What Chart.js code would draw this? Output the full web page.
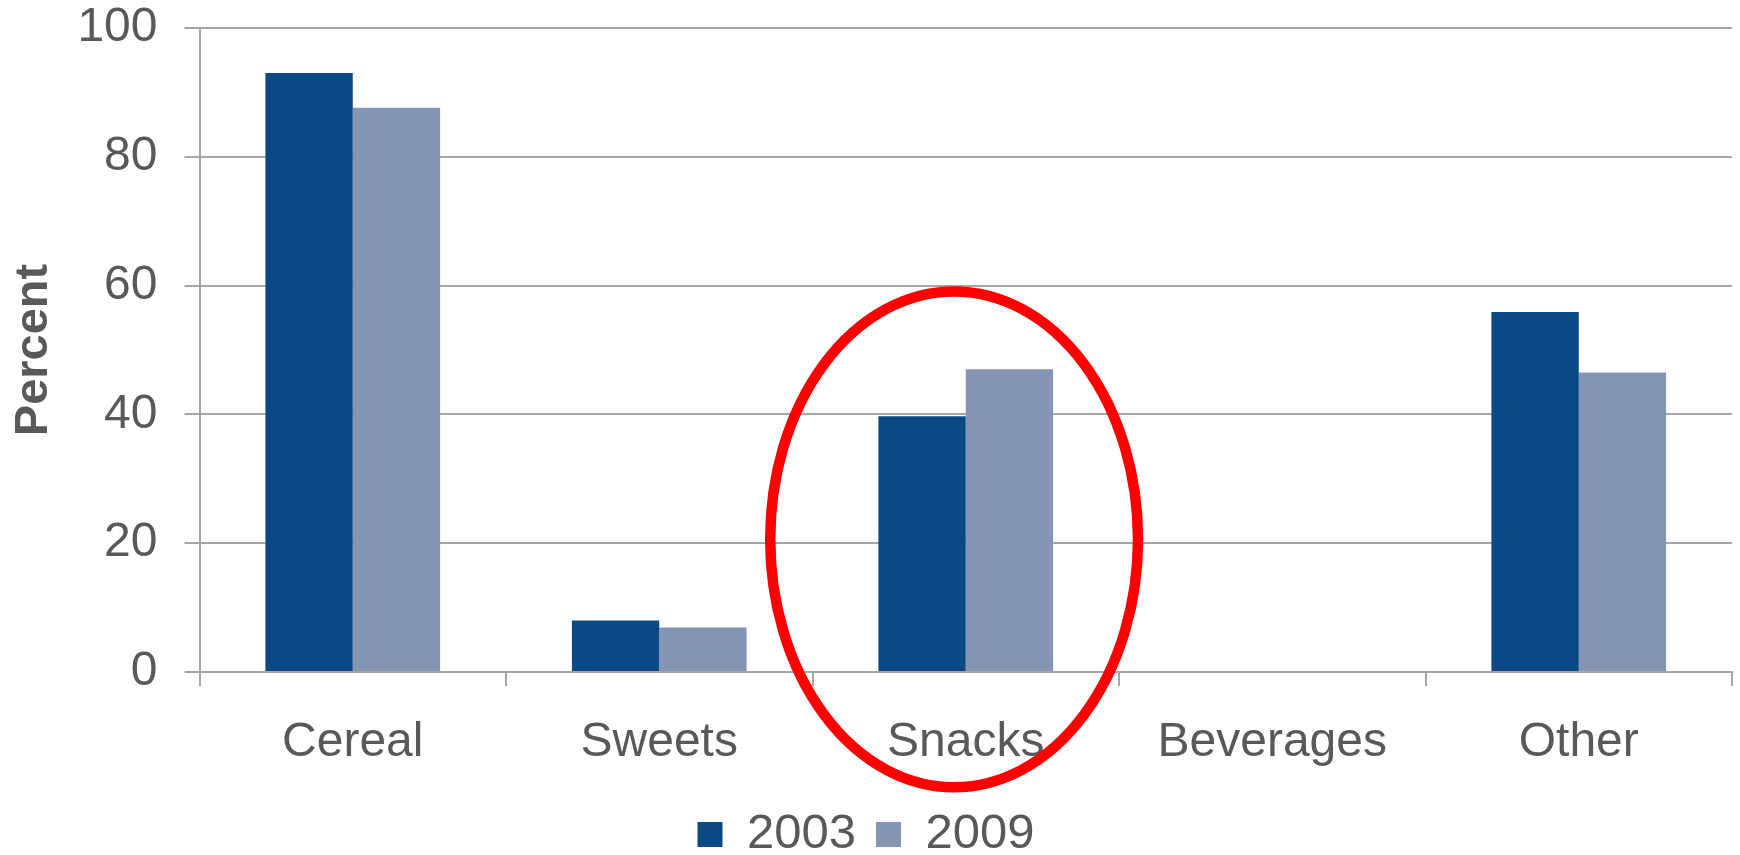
<!DOCTYPE html>
<html>
<head>
<meta charset="utf-8">
<script src="https://cdn.jsdelivr.net/npm/chart.js@4.4.1/dist/chart.umd.min.js"></script>
<style>
  html, body { margin: 0; padding: 0; background: #fff; }
  #wrap { width: 1740px; height: 855px; position: relative; }
</style>
</head>
<body>
<div id="wrap"><canvas id="myChart"></canvas></div>
<script>
const categories = ["Cereal", "Sweets", "Snacks", "Beverages", "Other"];
const values2003 = [93.0, 8.0, 39.7, null, 55.9];
const values2009 = [87.6, 6.9, 47.0, null, 46.5];
const seriesNames = ["2003", "2009"];
const yTicks = [0, 20, 40, 60, 80, 100];

const textColor = "#58595b";
const gridColor = "#a6a6a6";
const fontFamily = "'Liberation Sans', Arial, sans-serif";

// red ellipse around Snacks (centre in category/value units)
const highlight = { cat: 1.962, val: 20.6, halfCats: 0.6, halfVal: 38.5 };

const ellipsePlugin = {
  id: "ellipse",
  afterDraw(chart) {
    const { ctx, scales } = chart;
    const x = scales.x, y = scales.y;
    const catW = x.getPixelForValue(1) - x.getPixelForValue(0);
    const cx = x.getPixelForValue(0) + highlight.cat * catW;
    const cy = y.getPixelForValue(highlight.val);
    const rx = highlight.halfCats * catW;
    const ry = Math.abs(y.getPixelForValue(highlight.val + highlight.halfVal) - cy);
    ctx.save();
    ctx.beginPath();
    ctx.ellipse(cx, cy, rx, ry, 0, 0, Math.PI * 2);
    ctx.lineWidth = 10.5;
    ctx.strokeStyle = "#ff0000";
    ctx.stroke();
    ctx.restore();
  },
};

const data = {
  labels: categories,
  datasets: [
    {
      label: seriesNames[0],
      data: values2003,
      backgroundColor: "#0a4984",
      borderWidth: 0,
    },
    {
      label: seriesNames[1],
      data: values2009,
      backgroundColor: "#8595b5",
      borderWidth: 0,
    },
  ],
};

const config = {
  type: "bar",
  data,
  options: {
    responsive: true,
    maintainAspectRatio: false,
    animation: false,
    layout: {
      padding: { left: 0, right: 8, top: 0, bottom: -14 },
    },
    datasets: {
      bar: {
        categoryPercentage: 0.57,
        barPercentage: 1.0,
      },
    },
    scales: {
      x: {
        afterFit: (scale) => {
          scale.height = 118;
        },
        grid: {
          display: true,
          offset: true,
          drawOnChartArea: false,
          drawTicks: true,
          tickLength: 14,
          color: gridColor,
          lineWidth: 2,
        },
        border: { display: true, color: gridColor, width: 2 },
        ticks: {
          color: textColor,
          padding: 28,
          font: { family: fontFamily, size: 48 },
        },
      },
      y: {
        min: 0,
        max: 100,
        afterBuildTicks: (scale) => {
          scale.ticks = yTicks.map((v) => ({ value: v }));
        },
        afterFit: (scale) => {
          scale.width = 199.5;
          scale.paddingTop = 28;
          scale.paddingBottom = 0;
        },
        grid: {
          color: gridColor,
          lineWidth: 2,
          drawTicks: true,
          tickLength: 15,
        },
        border: { display: true, color: gridColor, width: 2 },
        ticks: {
          color: textColor,
          padding: 27,
          font: { family: fontFamily, size: 48 },
        },
        title: {
          display: true,
          text: "Percent",
          color: textColor,
          padding: { top: 6, bottom: 0 },
          font: { family: fontFamily, size: 47, weight: "bold" },
        },
      },
    },
    plugins: {
      legend: {
        position: "bottom",
        labels: {
          color: textColor,
          boxWidth: 25,
          boxHeight: 25,
          padding: 20,
          font: { family: fontFamily, size: 49 },
        },
      },
      tooltip: { enabled: false },
    },
  },
  plugins: [ellipsePlugin],
};

const myChart = new Chart(document.getElementById("myChart"), config);
</script>
</body>
</html>
